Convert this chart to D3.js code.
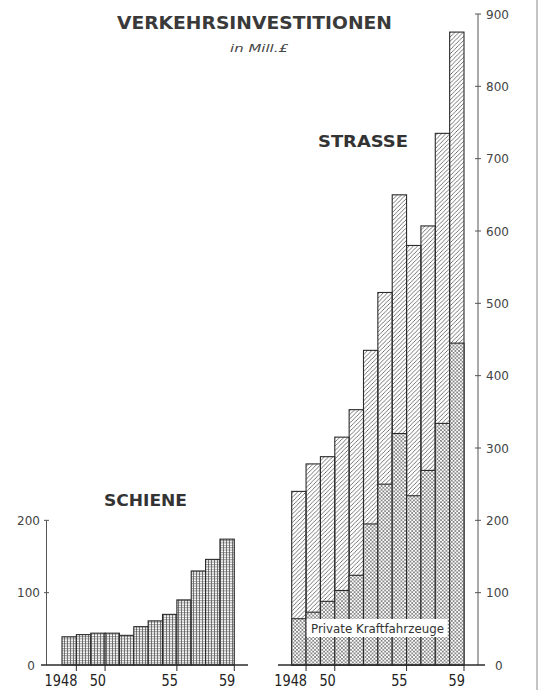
<!DOCTYPE html>
<html>
<head>
<meta charset="utf-8">
<script src="https://cdn.jsdelivr.net/npm/d3@7"></script>
<style>
    body { margin: 0; background: #fff; }
    svg { display: block; }
</style>
</head>
<body>
<svg id="chart" width="541" height="690"></svg>
<script>
// data (Mill. £)
var years = [1948, 1949, 1950, 1951, 1952, 1953, 1954, 1955, 1956, 1957, 1958, 1959];
var schiene = [39, 42, 44, 44, 41, 53, 61, 70, 90, 130, 146, 174];
var strasse = [240, 278, 288, 315, 353, 435, 515, 650, 580, 607, 735, 875];
var privateKfz = [64, 73, 88, 103, 124, 195, 250, 320, 234, 269, 334, 445];
var tickYears = [1948, 1950, 1955, 1959];
var tickLabels = ['1948', '50', '55', '59'];
var leftTicks = [0, 100, 200];
var rightTicks = [0, 100, 200, 300, 400, 500, 600, 700, 800, 900];

var ink = '#2b2b2b';
var svg = d3.select('#chart');

// hatch patterns
var defs = svg.append('defs');
defs.append('pattern')
    .attr('id', 'hatch').attr('patternUnits', 'userSpaceOnUse')
    .attr('width', 4.2).attr('height', 4.2)
    .append('path')
    .attr('d', 'M-1,1 l2,-2 M0,4.2 l4.2,-4.2 M3.2,5.2 l2,-2')
    .attr('stroke', '#555').attr('stroke-width', 0.8);

var cross = defs.append('pattern')
    .attr('id', 'cross').attr('patternUnits', 'userSpaceOnUse')
    .attr('width', 3.6).attr('height', 3.6);
cross.append('rect').attr('width', 3.6).attr('height', 3.6).attr('fill', '#fff');
cross.append('path')
    .attr('d', 'M-1,1 l2,-2 M0,3.6 l3.6,-3.6 M2.6,4.6 l2,-2 M-1,2.6 l2,2 M0,0 l3.6,3.6 M2.6,-1 l2,2')
    .attr('stroke', '#666').attr('stroke-width', 0.7);

var grid = defs.append('pattern')
    .attr('id', 'grid').attr('patternUnits', 'userSpaceOnUse')
    .attr('width', 3).attr('height', 2.4);
grid.append('rect').attr('width', 3).attr('height', 2.4).attr('fill', '#fff');
grid.append('path')
    .attr('d', 'M0,0.6 H3 M1.5,0 V2.4')
    .attr('stroke', '#555').attr('stroke-width', 0.7);

// shared value scale
var y = d3.scaleLinear().domain([0, 900]).range([665, 14]);

var xLeft = d3.scaleBand().domain(years).range([62, 234.3]).padding(0);
var xRight = d3.scaleBand().domain(years).range([291.7, 464]).padding(0);

// frame line at right edge of the page
svg.append('line')
    .attr('x1', 537).attr('x2', 537).attr('y1', 0).attr('y2', 690)
    .attr('stroke', '#888').attr('stroke-width', 1);

// title
svg.append('text')
    .attr('x', 117).attr('y', 29)
    .attr('textLength', 275).attr('lengthAdjust', 'spacingAndGlyphs')
    .style('font', 'bold 18px "DejaVu Sans", sans-serif')
    .attr('fill', '#3a3a3a')
    .text('VERKEHRSINVESTITIONEN');
svg.append('text')
    .attr('x', 230).attr('y', 52)
    .attr('textLength', 58).attr('lengthAdjust', 'spacingAndGlyphs')
    .style('font', 'italic 11px "DejaVu Sans", sans-serif')
    .attr('fill', '#444')
    .text('in Mill.£');

svg.append('text')
    .attr('x', 318).attr('y', 147)
    .attr('textLength', 90).attr('lengthAdjust', 'spacingAndGlyphs')
    .style('font', 'bold 16px "DejaVu Sans", sans-serif')
    .attr('fill', '#333')
    .text('STRASSE');
svg.append('text')
    .attr('x', 104).attr('y', 506)
    .attr('textLength', 83).attr('lengthAdjust', 'spacingAndGlyphs')
    .style('font', 'bold 16px "DejaVu Sans", sans-serif')
    .attr('fill', '#333')
    .text('SCHIENE');

// SCHIENE bars
svg.append('g').selectAll('rect')
    .data(years)
    .join('rect')
    .attr('x', d => xLeft(d))
    .attr('width', xLeft.bandwidth())
    .attr('y', (d, i) => y(schiene[i]))
    .attr('height', (d, i) => y(0) - y(schiene[i]))
    .attr('fill', 'url(#grid)')
    .attr('stroke', ink).attr('stroke-width', 1.1);

// STRASSE bars: total hatched, private overlay cross-hatched
var road = svg.append('g');
road.selectAll('rect.total')
    .data(years)
    .join('rect')
    .attr('class', 'total')
    .attr('x', d => xRight(d))
    .attr('width', xRight.bandwidth())
    .attr('y', (d, i) => y(strasse[i]))
    .attr('height', (d, i) => y(0) - y(strasse[i]))
    .attr('fill', '#fff')
    .attr('stroke', 'none');
road.selectAll('rect.hatch')
    .data(years)
    .join('rect')
    .attr('class', 'hatch')
    .attr('x', d => xRight(d))
    .attr('width', xRight.bandwidth())
    .attr('y', (d, i) => y(strasse[i]))
    .attr('height', (d, i) => y(0) - y(strasse[i]))
    .attr('fill', 'url(#hatch)')
    .attr('stroke', ink).attr('stroke-width', 1.1);
road.selectAll('rect.priv')
    .data(years)
    .join('rect')
    .attr('class', 'priv')
    .attr('x', d => xRight(d))
    .attr('width', xRight.bandwidth())
    .attr('y', (d, i) => y(privateKfz[i]))
    .attr('height', (d, i) => y(0) - y(privateKfz[i]))
    .attr('fill', 'url(#cross)')
    .attr('stroke', ink).attr('stroke-width', 1.1);

// label box
svg.append('rect')
    .attr('x', 306.7).attr('y', 619).attr('width', 141).attr('height', 18)
    .attr('fill', '#fff');
svg.append('text')
    .attr('x', 311).attr('y', 633)
    .attr('textLength', 133).attr('lengthAdjust', 'spacingAndGlyphs')
    .style('font', '12px "DejaVu Sans", sans-serif')
    .attr('fill', '#333')
    .text('Private Kraftfahrzeuge');

// value axes
var leftAxis = svg.append('g');
leftAxis.append('line')
    .attr('x1', 46.5).attr('x2', 46.5).attr('y1', y(200)).attr('y2', y(0))
    .attr('stroke', '#555').attr('stroke-width', 1);
leftAxis.selectAll('line.tk')
    .data(leftTicks.filter(d => d > 0))
    .join('line')
    .attr('class', 'tk')
    .attr('x1', 44).attr('x2', 49)
    .attr('y1', d => y(d)).attr('y2', d => y(d))
    .attr('stroke', '#555');
leftAxis.selectAll('text')
    .data(leftTicks)
    .join('text')
    .attr('x', d => d === 0 ? 35 : 40)
    .attr('y', d => y(d) + 4.5)
    .attr('text-anchor', 'end')
    .style('font', '12px "DejaVu Sans", sans-serif')
    .attr('fill', '#444')
    .text(d => d);

var rightAxis = svg.append('g');
rightAxis.append('line')
    .attr('x1', 478).attr('x2', 478).attr('y1', y(900)).attr('y2', y(0))
    .attr('stroke', '#555').attr('stroke-width', 1);
rightAxis.selectAll('line.tk')
    .data(rightTicks.filter(d => d > 0))
    .join('line')
    .attr('class', 'tk')
    .attr('x1', 475).attr('x2', 481)
    .attr('y1', d => y(d)).attr('y2', d => y(d))
    .attr('stroke', '#555');
rightAxis.selectAll('text')
    .data(rightTicks)
    .join('text')
    .attr('x', d => d === 0 ? 495 : 486)
    .attr('y', d => y(d) + 4.5)
    .style('font', '12px "DejaVu Sans", sans-serif')
    .attr('fill', '#444')
    .text(d => d);

// year axes
function yearAxis(x, x0, x1) {
    var g = svg.append('g');
    g.append('line')
        .attr('x1', x0).attr('x2', x1).attr('y1', y(0)).attr('y2', y(0))
        .attr('stroke', ink).attr('stroke-width', 1.4);
    g.selectAll('line.tk')
        .data(tickYears)
        .join('line')
        .attr('class', 'tk')
        .attr('x1', d => x(d) + x.bandwidth()).attr('x2', d => x(d) + x.bandwidth())
        .attr('y1', y(0)).attr('y2', y(0) + 6)
        .attr('stroke', ink).attr('stroke-width', 1);
    g.selectAll('text')
        .data(tickYears)
        .join('text')
        .attr('x', d => x(d) + x.bandwidth() + 1)
        .attr('y', 686)
        .attr('text-anchor', 'end')
        .attr('textLength', (d, i) => tickLabels[i].length * 8.2)
        .attr('lengthAdjust', 'spacingAndGlyphs')
        .style('font', '16px "DejaVu Sans", sans-serif')
        .attr('fill', '#222')
        .text((d, i) => tickLabels[i]);
}
yearAxis(xLeft, 41, 248);
yearAxis(xRight, 278, 485);
</script>
</body>
</html>
